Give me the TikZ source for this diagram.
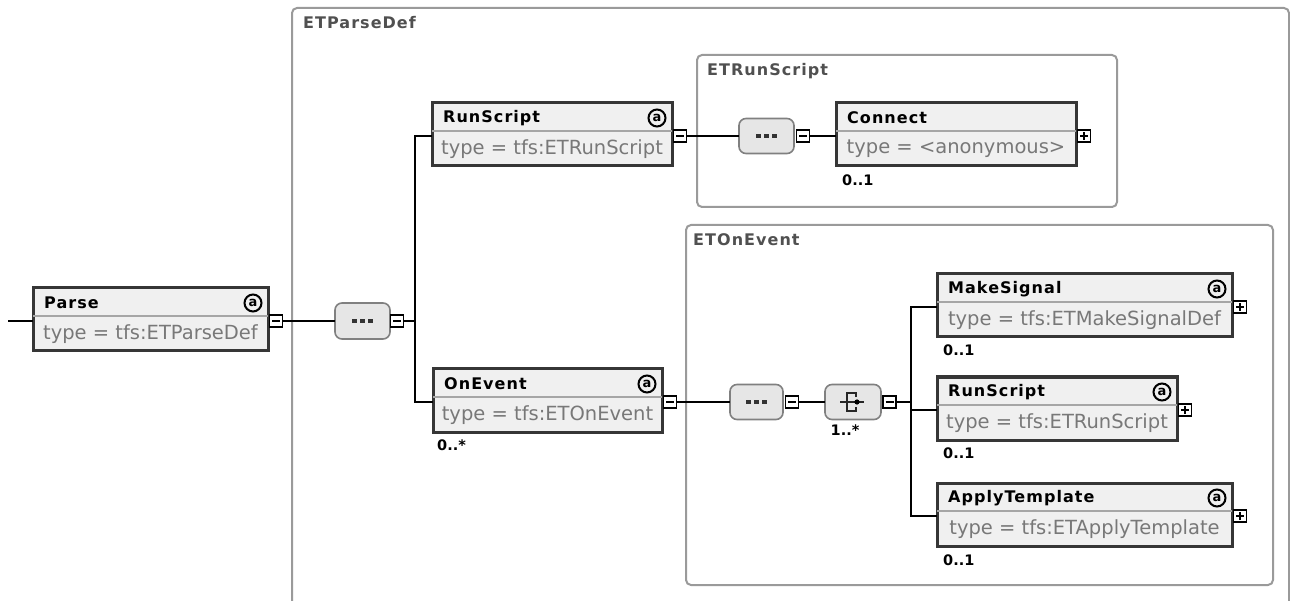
\documentclass[tikz,border=0pt]{standalone}
\usepackage{fontspec}
\setmainfont{DejaVu Sans}
\newfontfamily\wideface[LetterSpace=6.5]{DejaVu Sans}
\usetikzlibrary{calc}

\definecolor{BoxLine}{HTML}{363636}
\definecolor{BoxFill}{HTML}{F0F0F0}
\definecolor{SepLine}{HTML}{A6A6A6}
\definecolor{TypeText}{HTML}{787878}
\definecolor{FrameLine}{HTML}{9A9A9A}
\definecolor{FrameText}{HTML}{505050}
\definecolor{SeqFill}{HTML}{E6E6E6}
\definecolor{SeqLine}{HTML}{808080}

% element box: name, x, y, width, title, type
\newcommand\elembox[6]{%
  \node[elem,minimum width=#4] (#1) at (#2,#3) {};
  \draw[sepline] ([yshift=-28pt]#1.north west) -- ([yshift=-28pt]#1.north east);
  \node[elemname] (#1-name) at ([xshift=11pt,yshift=-15pt]#1.north west) {#5};
  \node[elemtype] (#1-type) at ([yshift=-46pt]#1.north) {#6};
  \coordinate (#1-in) at ([yshift=-33pt]#1.north west);
  \coordinate (#1-out) at ([xshift=8pt,yshift=-33pt]#1.north east);
}
\newcommand\attrmark[1]{%
  \node[attrib] (#1-attr) at ([xshift=-15pt,yshift=-15pt]#1.north east) {a};
}

\begin{document}
\begin{tikzpicture}[x=1pt,y=-1pt,
    conn/.style={line width=2pt,black},
    frame/.style={draw=FrameLine,line width=2pt,rounded corners=5pt,anchor=north west,inner sep=0pt,outer sep=0pt},
    framelabel/.style={anchor=west,inner sep=0pt,text=FrameText,font=\wideface\bfseries\fontsize{16}{18}\selectfont},
    elem/.style={draw=BoxLine,fill=BoxFill,line width=3pt,minimum height=63pt,anchor=north west,inner sep=0pt,outer sep=0pt},
    sepline/.style={draw=SepLine,line width=2pt},
    elemname/.style={anchor=west,inner sep=0pt,font=\wideface\bfseries\fontsize{16}{18}\selectfont},
    elemtype/.style={inner sep=0pt,text=TypeText,font=\fontsize{19.5}{22}\selectfont},
    attrib/.style={circle,draw,line width=2pt,minimum size=17pt,inner sep=0pt,font=\bfseries\fontsize{13}{13}\selectfont},
    occ/.style={anchor=west,inner sep=0pt,font=\bfseries\fontsize{14.5}{16}\selectfont},
    seq/.style={draw=SeqLine,fill=SeqFill,line width=1.6pt,rounded corners=7pt,minimum width=55pt,minimum height=36pt,inner sep=0pt,outer sep=0pt},
    dots/.style={path picture={\foreach \d in {-8,0,8} \fill[black!80,sharp corners,shift={(path picture bounding box.center)}] (\d pt-2.4pt,-2.4pt) rectangle (\d pt+2.4pt,2.4pt);}},
    choiceicon/.style={path picture={
        \draw[black!85,sharp corners,line width=1.5pt,shift={(path picture bounding box.center)}]
          (-13pt,0pt) -- (11pt,0pt)
          (3pt,5pt) -- (3pt,9pt) -- (-6pt,9pt) -- (-6pt,-9pt) -- (3pt,-9pt) -- (3pt,-5pt);
        \fill[black,shift={(path picture bounding box.center)}] (4pt,0pt) circle (2.6pt);}},
    togglebox/.style={draw=black,fill=white,line width=1.8pt,minimum width=13pt,minimum height=12pt,inner sep=0pt,outer sep=0pt},
    collapse/.style={togglebox,path picture={\draw[black,line width=1.8pt] ([xshift=-4pt]path picture bounding box.center) -- ([xshift=4pt]path picture bounding box.center);}},
    expand/.style={togglebox,path picture={
        \draw[black,line width=1.8pt] ([xshift=-4pt]path picture bounding box.center) -- ([xshift=4pt]path picture bounding box.center);
        \draw[black,line width=1.8pt] ([yshift=-4pt]path picture bounding box.center) -- ([yshift=4pt]path picture bounding box.center);}}
  ]
  \useasboundingbox (0,0) rectangle (1290,601);

  % type frames
  \node[frame,minimum width=997pt,minimum height=640pt] (parsedef) at (292,8) {};
  \node[framelabel] (parsedef-lbl) at ([xshift=11pt,yshift=-15pt]parsedef.north west) {ETParseDef};
  \node[frame,minimum width=420pt,minimum height=152pt] (runscriptdef) at (697,55) {};
  \node[framelabel] (runscriptdef-lbl) at ([xshift=10pt,yshift=-16pt]runscriptdef.north west) {ETRunScript};
  \node[frame,minimum width=587pt,minimum height=360pt] (oneventdef) at (686,225) {};
  \node[framelabel] (oneventdef-lbl) at ([xshift=7pt,yshift=-15pt]oneventdef.north west) {ETOnEvent};

  % elements
  \elembox{parse}{33}{288}{235}{Parse}{type = tfs:ETParseDef}
  \attrmark{parse}
  \elembox{runscript}{432}{103}{240}{RunScript}{type = tfs:ETRunScript}
  \attrmark{runscript}
  \elembox{onevent}{433}{369}{229}{OnEvent}{type = tfs:ETOnEvent}
  \attrmark{onevent}
  \elembox{connect}{836}{103}{240}{Connect}{type = <anonymous>}
  \elembox{makesignal}{937}{274}{295}{MakeSignal}{type = tfs:ETMakeSignalDef}
  \attrmark{makesignal}
  \elembox{runscriptb}{937}{377}{240}{RunScript}{type = tfs:ETRunScript}
  \attrmark{runscriptb}
  \elembox{applytemplate}{937}{483}{295}{ApplyTemplate}{type = tfs:ETApplyTemplate}
  \attrmark{applytemplate}

  % expand / collapse marks
  \node[collapse] (parse-x) at (parse-out) {};
  \node[collapse] (runscript-x) at (runscript-out) {};
  \node[collapse] (onevent-x) at (onevent-out) {};
  \node[expand] (connect-x) at (connect-out) {};
  \node[expand] (makesignal-x) at (makesignal-out) {};
  \node[expand] (runscriptb-x) at (runscriptb-out) {};
  \node[expand] (applytemplate-x) at (applytemplate-out) {};

  % occurrences
  \node[occ] (onevent-occ) at ([xshift=4pt,yshift=-13pt]onevent.south west) {0..*};
  \node[occ] (connect-occ) at ([xshift=6pt,yshift=-14pt]connect.south west) {0..1};
  \node[occ] (makesignal-occ) at ([xshift=6pt,yshift=-13pt]makesignal.south west) {0..1};
  \node[occ] (runscriptb-occ) at ([xshift=6pt,yshift=-13pt]runscriptb.south west) {0..1};
  \node[occ] (applytemplate-occ) at ([xshift=6pt,yshift=-14pt]applytemplate.south west) {0..1};

  % sequences and choice
  \node[seq,dots] (seqa) at (362.5,321) {};
  \node[collapse] (seqa-x) at ([xshift=7pt]seqa.east) {};
  \node[seq,dots,minimum height=35pt] (seqb) at (766.5,136) {};
  \node[collapse] (seqb-x) at ([xshift=9pt]seqb.east) {};
  \node[seq,dots,minimum width=53pt,minimum height=35pt] (seqc) at (756.5,402) {};
  \node[collapse] (seqc-x) at ([xshift=9pt]seqc.east) {};
  \node[seq,choiceicon,minimum width=56pt,minimum height=35pt] (choice) at (853,402) {};
  \node[collapse] (choice-x) at ([xshift=8.5pt]choice.east) {};
  \node[occ,anchor=center] (choice-occ) at ([xshift=-8pt,yshift=-11pt]choice.south) {1..*};

  \coordinate (parse-feed) at (8,321);
  \coordinate (forka) at (415,321);
  \coordinate (forkb) at (911,402);

  % connectors
  \draw[conn] (parse-feed) -- (parse-in);
  \draw[conn] (parse-x) -- (seqa);
  \draw[conn] (seqa-x) -- (forka);
  \draw[conn] (runscript-in) -| (forka) |- (onevent-in);
  \draw[conn] (runscript-x) -- (seqb);
  \draw[conn] (seqb-x) -- (connect-in);
  \draw[conn] (onevent-x) -- (seqc);
  \draw[conn] (seqc-x) -- (choice);
  \draw[conn] (choice-x) -- (forkb);
  \draw[conn] (makesignal-in) -| (forkb) |- (applytemplate-in);
  \draw[conn] (runscriptb-in) -- (runscriptb-in -| forkb);
\end{tikzpicture}
\end{document}
